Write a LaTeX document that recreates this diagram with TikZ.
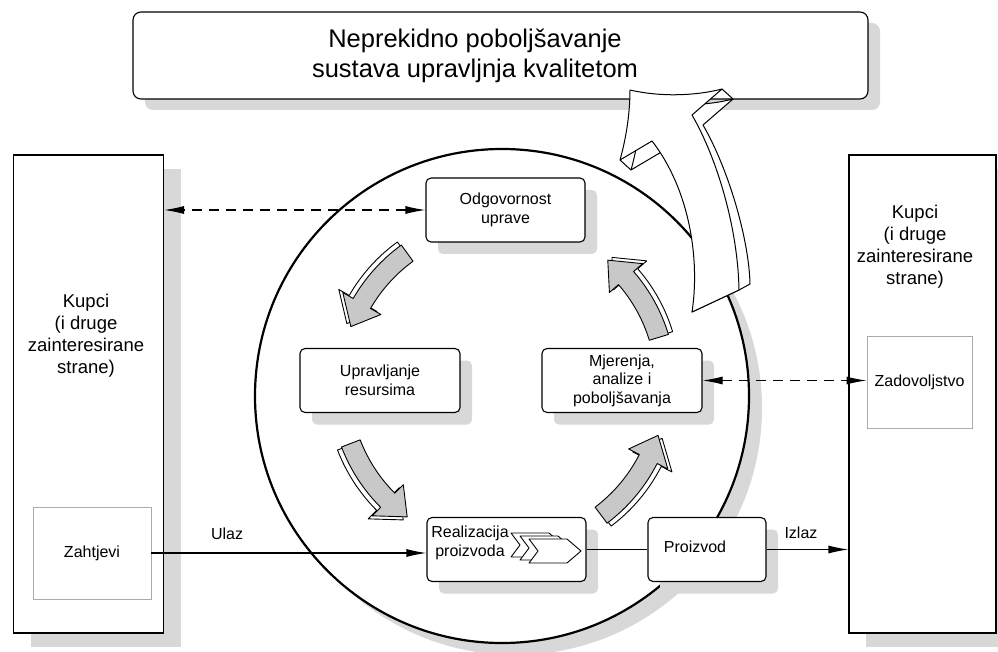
\documentclass[tikz,border=0pt]{standalone}
\usepackage{fontspec}
\setmainfont{Liberation Sans}
\usetikzlibrary{arrows.meta,shadows}

\definecolor{shadowgray}{RGB}{216,216,216}
\definecolor{arrowgray}{RGB}{200,200,200}
\definecolor{framegray}{RGB}{170,170,170}

\begin{document}
\begin{tikzpicture}[x=1pt, y=-1pt,
    every node/.style={font=\fontsize{16}{19.5}\selectfont},
    procbox/.style={draw, fill=white, rounded corners=5pt, line width=1.1pt,
      minimum width=159pt, minimum height=64pt, inner sep=2pt, align=center,
      drop shadow={opacity=1, fill=shadowgray, shadow xshift=12pt, shadow yshift=-12pt}},
    topbox/.style={draw, fill=white, rounded corners=8pt, line width=1.1pt,
      minimum width=735pt, minimum height=87pt,
      drop shadow={opacity=1, fill=shadowgray, shadow xshift=12pt, shadow yshift=-11pt}},
    sidebox/.style={draw, fill=white, line width=1.1pt, minimum width=150pt, minimum height=478pt,
      drop shadow={opacity=1, fill=shadowgray, shadow xshift=17pt, shadow yshift=-14pt}},
    innerbox/.style={draw=framegray, line width=0.9pt, minimum width=118pt, minimum height=92pt},
    sidetext/.style={align=center, font=\fontsize{18.5}{22}\selectfont},
    flow/.style={line width=1.1pt},
    flowarrow/.style={flow, -{Latex[length=20pt, width=8pt]}},
    dashedarrow/.style={flow, dash pattern=on 10pt off 7pt,
      {Latex[length=20pt, width=8pt]}-{Latex[length=20pt, width=8pt]}},
    cycleside/.style={fill=white, draw, line width=0.9pt, line join=round},
    cycleface/.style={fill=arrowgray, draw, line width=0.9pt, line join=round},
    bigarrow/.style={fill=white, draw, line width=1pt, line join=round},
    chevron/.style={fill=white, draw, line width=0.9pt, line join=round}]

    \useasboundingbox (0,0) rectangle (998,652);

    % top box
    \node[topbox] (vrh) at (500.5,55.5) {};
    \node[align=center, font=\fontsize{25.5}{30}\selectfont] (vrhtekst) at (475,55.5)
      {Neprekidno poboljšavanje\\sustava upravljnja kvalitetom};

    % customers on both sides
    \node[sidebox] (kupcilijevo) at (88.5,394) {};
    \node[sidetext] (kupcilijevotekst) at (86,336) {Kupci\\(i druge\\zainteresirane\\strane)};
    \node[innerbox] (zahtjevi) at (92,553) {Zahtjevi};

    \node[sidebox, minimum width=147pt] (kupcidesno) at (922.5,394) {};
    \node[sidetext] (kupcidesnotekst) at (915,247) {Kupci\\(i druge\\zainteresirane\\strane)};
    \node[innerbox, minimum width=105pt] (zadovoljstvo) at (919.5,382) {Zadovoljstvo};

    % the circle with its shadow
    \coordinate (sredina) at (502,396);
    \fill[shadowgray] ([shift={(13,12)}]sredina) circle[radius=247];
    \fill[white] (sredina) circle[radius=247];
    \draw[line width=2.2pt] (sredina) circle[radius=247];

    % process boxes
    \node[procbox] (odgovornost) at (505.5,210) {Odgovornost\\uprave};
    \node[procbox, minimum width=160pt] (upravljanje) at (380,380.5) {Upravljanje\\resursima};
    \node[procbox, minimum width=160pt, font=\fontsize{16}{18.5}\selectfont] (mjerenja) at (622,380.5)
      {Mjerenja,\\analize i\\poboljšavanja};
    \node[procbox] (realizacija) at (506.5,549.5) {};
    \node[align=center] (realizacijatekst) at (470,543) {Realizacija\\proizvoda};
    \node[procbox, minimum width=118pt] (proizvod) at (707,549.5) {};
    \node (proizvodtekst) at (695,547) {Proizvod};

    % stacked chevrons inside the realisation box
    \foreach \dx/\dy in {-18/-6, -9/-3, 0/0}{
      \filldraw[chevron, shift={(\dx,\dy)}] (529,539) -- (567,539) -- (581,551)
        -- (567,563) -- (529,563) -- (538,551) -- cycle;
    }

    % four curved arrows of the cycle
    \begin{scope}[shift={(503,385)}, yscale=-1]
      \foreach \a/\b in {126/159, 201/234, 307/342, 17/50}{
        \pgfmathsetmacro{\headangle}{\b-9}
        \pgfmathsetmacro{\midangle}{(\a+\b)/2}
        % side face
        \filldraw[cycleside, shift={(\midangle:5)}] (\a:173)
          arc[start angle=\a, end angle=\headangle, radius=173]
          -- (\headangle:185) -- (\b:163) -- (\headangle:141) -- (\headangle:153)
          arc[start angle=\headangle, end angle=\a, radius=153] -- cycle;
        % front face
        \filldraw[cycleface] (\a:173)
          arc[start angle=\a, end angle=\headangle, radius=173]
          -- (\headangle:185) -- (\b:163) -- (\headangle:141) -- (\headangle:153)
          arc[start angle=\headangle, end angle=\a, radius=153] -- cycle;
      }
    \end{scope}

    % big arrow up to the top box: back face, then front face
    \filldraw[bigarrow] (641,100) .. controls (671,107) and (706,106) .. (733,99)
      -- (703,125) .. controls (729,170) and (749,240) .. (750,284) -- (739,290)
      -- (692,312) .. controls (711,270) and (701,200) .. (663,151)
      -- (631,170) .. controls (638,145) and (641,120) .. (641,100) -- cycle;
    \filldraw[bigarrow] (630,90) .. controls (660,97) and (695,96) .. (722,89)
      -- (692,115) .. controls (718,160) and (738,230) .. (739,290)
      -- (692,312) .. controls (700,260) and (690,190) .. (652,141)
      -- (620,160) .. controls (627,135) and (630,110) .. (630,90) -- cycle;
    \draw[line width=1pt] (722,89) -- (733,99) (620,160) -- (631,170);

    % connectors
    \draw[dashedarrow] (odgovornost.west) -- (kupcilijevo.east |- odgovornost.west);
    \draw[dashedarrow] (mjerenja.east) -- (zadovoljstvo.west |- mjerenja.east);
    \draw[flowarrow] (zahtjevi.east) -- node[pos=.275, above=9pt] (ulaz) {Ulaz}
      (realizacija.west |- zahtjevi.east);
    \draw[flow] (realizacija.east) -- (proizvod.west |- realizacija.east);
    \draw[flowarrow] (proizvod.east) -- node[pos=.42, above=7pt] (izlaz) {Izlaz}
      (kupcidesno.west |- proizvod.east);
\end{tikzpicture}
\end{document}
